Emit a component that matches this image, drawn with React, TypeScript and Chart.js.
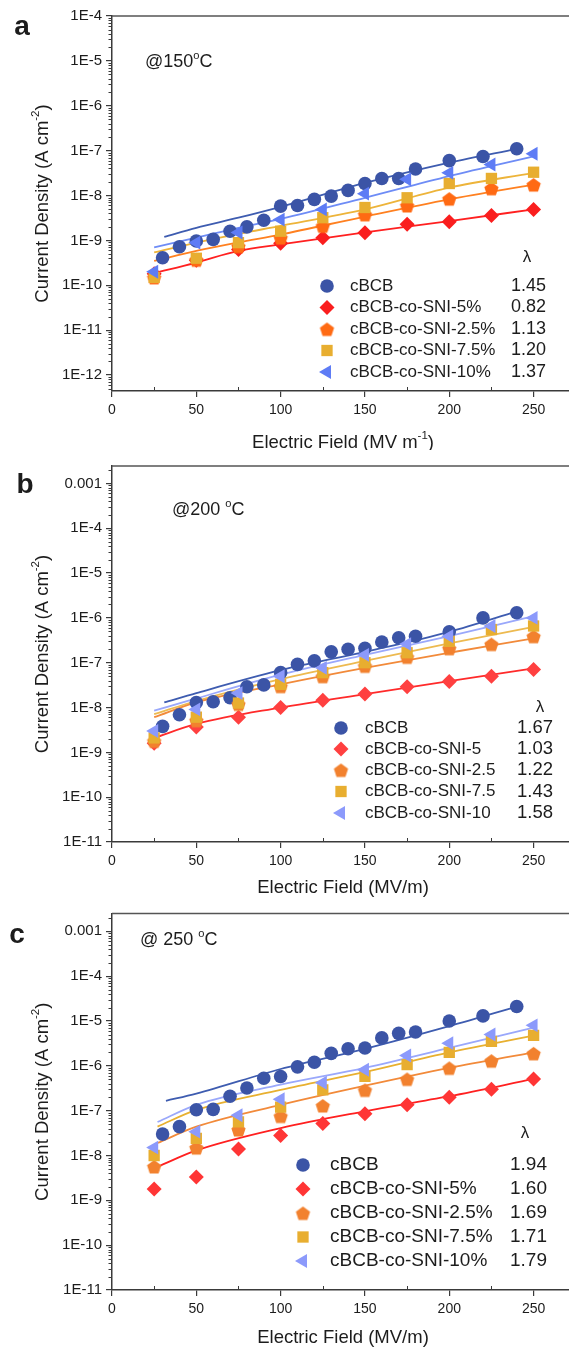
import React, { useEffect, useRef } from 'react';
import { Chart, registerables } from 'chart.js';
import { drawPoint } from 'chart.js/helpers';

Chart.register(...registerables);

const FONT = '"Liberation Sans", Arial, Helvetica, sans-serif';
const TEXT = '#1c1c1c';
const AXIS = '#3a3a3a';

// ---------------- categories / labels ----------------
const NAMES_A = ['cBCB', 'cBCB-co-SNI-5%', 'cBCB-co-SNI-2.5%', 'cBCB-co-SNI-7.5%', 'cBCB-co-SNI-10%'];
const NAMES_B = ['cBCB', 'cBCB-co-SNI-5', 'cBCB-co-SNI-2.5', 'cBCB-co-SNI-7.5', 'cBCB-co-SNI-10'];
const NAMES_C = ['cBCB', 'cBCB-co-SNI-5%', 'cBCB-co-SNI-2.5%', 'cBCB-co-SNI-7.5%', 'cBCB-co-SNI-10%'];
const LAMBDA_A = ['1.45', '0.82', '1.13', '1.20', '1.37'];
const LAMBDA_B = ['1.67', '1.03', '1.22', '1.43', '1.58'];
const LAMBDA_C = ['1.94', '1.60', '1.69', '1.71', '1.79'];

const X_TICKS = [0, 50, 100, 150, 200, 250];
const X_MINOR = [25, 75, 125, 175, 225];
const Y_TICKS_A = [1e-12, 1e-11, 1e-10, 1e-9, 1e-8, 1e-7, 1e-6, 1e-5, 1e-4];
const Y_LABELS_A = ['1E-12', '1E-11', '1E-10', '1E-9', '1E-8', '1E-7', '1E-6', '1E-5', '1E-4'];
const Y_TICKS_BC = [1e-11, 1e-10, 1e-9, 1e-8, 1e-7, 1e-6, 1e-5, 1e-4, 1e-3];
const Y_LABELS_BC = ['1E-11', '1E-10', '1E-9', '1E-8', '1E-7', '1E-6', '1E-5', '1E-4', '0.001'];

// ---------------- field values (MV/m) ----------------
const FIELD_CBCB = [30, 40, 50, 60, 70, 80, 90, 100, 110, 120, 130, 140, 150, 160, 170, 180, 200, 220, 240];
const FIELD_STEPS = [25, 50, 75, 100, 125, 150, 175, 200, 225, 250];

// ---------------- panel a : 150 C ----------------
const A_CBCB = [4.1e-10, 7.2e-10, 9.7e-10, 1.05e-9, 1.6e-9, 2.0e-9, 2.8e-9, 5.8e-9, 6.0e-9, 8.2e-9, 9.7e-9, 1.3e-8, 1.85e-8, 2.4e-8, 2.4e-8, 3.9e-8, 6.0e-8, 7.4e-8, 1.1e-7];
const A_SNI5 = [1.8e-10, 3.6e-10, 6.3e-10, 8.6e-10, 1.15e-9, 1.48e-9, 2.3e-9, 2.6e-9, 3.6e-9, 4.9e-9];
const A_SNI25 = [1.5e-10, 3.7e-10, 7.4e-10, 1.15e-9, 2.1e-9, 3.8e-9, 6.0e-9, 8.5e-9, 1.45e-8, 1.75e-8];
const A_SNI75 = [1.5e-10, 4.0e-10, 8.9e-10, 1.6e-9, 3.2e-9, 5.4e-9, 8.9e-9, 1.85e-8, 2.4e-8, 3.3e-8];
const A_SNI10 = [2.0e-10, 8.9e-10, 1.5e-9, 2.9e-9, 4.9e-9, 1.1e-8, 2.3e-8, 3.2e-8, 4.9e-8, 8.5e-8];

const A_FIT_X_CBCB = [31, 50, 75, 100, 150, 200, 240];
const A_FIT_CBCB = [1.2e-9, 1.9e-9, 3.2e-9, 5.6e-9, 1.9e-8, 5.4e-8, 1.1e-7];
const A_FIT_X = [25, 50, 75, 100, 150, 200, 250];
const A_FIT_SNI5 = [1.85e-10, 3.2e-10, 5.8e-10, 8.1e-10, 1.5e-9, 2.7e-9, 4.9e-9];
const A_FIT_SNI25 = [3.5e-10, 5.8e-10, 9.0e-10, 1.35e-9, 3.4e-9, 8.2e-9, 1.75e-8];
const A_FIT_SNI75 = [5.4e-10, 8.9e-10, 1.4e-9, 2.1e-9, 4.9e-9, 1.5e-8, 3.2e-8];
const A_FIT_SNI10 = [7.0e-10, 1.15e-9, 1.9e-9, 3.0e-9, 8.9e-9, 2.7e-8, 7.4e-8];

// ---------------- panel b : 200 C ----------------
const B_CBCB = [3.8e-9, 6.9e-9, 1.3e-8, 1.35e-8, 1.66e-8, 2.9e-8, 3.2e-8, 6.0e-8, 9.2e-8, 1.1e-7, 1.75e-7, 2.0e-7, 2.1e-7, 2.9e-7, 3.6e-7, 3.9e-7, 4.9e-7, 1.0e-6, 1.3e-6];
const B_SNI5 = [1.6e-9, 3.7e-9, 6.1e-9, 1.0e-8, 1.45e-8, 2.0e-8, 2.9e-8, 3.8e-8, 5.0e-8, 7.1e-8];
const B_SNI25 = [1.8e-9, 5.2e-9, 1.2e-8, 3.0e-8, 5.0e-8, 8.5e-8, 1.35e-7, 2.1e-7, 2.6e-7, 3.9e-7];
const B_SNI75 = [2.1e-9, 6.1e-9, 1.26e-8, 3.3e-8, 6.0e-8, 1.0e-7, 1.67e-7, 3.0e-7, 5.5e-7, 6.6e-7];
const B_SNI10 = [3.0e-9, 9.1e-9, 2.1e-8, 5.0e-8, 7.7e-8, 1.5e-7, 2.6e-7, 3.9e-7, 6.6e-7, 1.0e-6];

const B_FIT_X_CBCB = [31, 50, 100, 150, 200, 240];
const B_FIT_CBCB = [1.3e-8, 2.1e-8, 6.8e-8, 1.75e-7, 4.9e-7, 1.4e-6];
const B_FIT_X = [25, 50, 100, 150, 200, 250];
const B_FIT_SNI5 = [2.1e-9, 4.3e-9, 1.0e-8, 2.0e-8, 3.9e-8, 7.5e-8];
const B_FIT_SNI25 = [6.1e-9, 1.3e-8, 3.3e-8, 7.7e-8, 1.67e-7, 3.5e-7];
const B_FIT_SNI75 = [7.1e-9, 1.4e-8, 4.3e-8, 1.1e-7, 2.7e-7, 6.3e-7];
const B_FIT_SNI10 = [8.5e-9, 1.6e-8, 5.4e-8, 1.5e-7, 3.9e-7, 1.1e-6];

// ---------------- panel c : 250 C ----------------
const C_CBCB = [3.0e-8, 4.4e-8, 1.05e-7, 1.07e-7, 2.1e-7, 3.2e-7, 5.3e-7, 5.8e-7, 9.5e-7, 1.2e-6, 1.9e-6, 2.4e-6, 2.5e-6, 4.2e-6, 5.3e-6, 5.7e-6, 1.0e-5, 1.3e-5, 2.1e-5];
const C_SNI5 = [1.8e-9, 3.3e-9, 1.4e-8, 2.8e-8, 5.2e-8, 8.5e-8, 1.35e-7, 2.0e-7, 3.0e-7, 5.1e-7];
const C_SNI25 = [5.7e-9, 1.5e-8, 3.8e-8, 7.6e-8, 1.3e-7, 2.9e-7, 5.1e-7, 9.0e-7, 1.3e-6, 1.9e-6];
const C_SNI75 = [1.0e-8, 2.4e-8, 5.6e-8, 1.2e-7, 2.9e-7, 5.8e-7, 1.06e-6, 2.0e-6, 3.5e-6, 4.8e-6];
const C_SNI10 = [1.5e-8, 3.4e-8, 7.9e-8, 1.8e-7, 4.2e-7, 8.2e-7, 1.7e-6, 3.2e-6, 5.0e-6, 8.0e-6];

const C_FIT_X_CBCB = [32, 50, 100, 150, 200, 240];
const C_FIT_CBCB = [1.66e-7, 2.4e-7, 8.5e-7, 2.4e-6, 7.7e-6, 2.1e-5];
const C_FIT_X = [27, 50, 100, 150, 200, 250];
const C_FIT_SNI5 = [5.6e-9, 1.3e-8, 4.1e-8, 9.7e-8, 2.1e-7, 5.1e-7];
const C_FIT_SNI25 = [1.9e-8, 4.4e-8, 1.35e-7, 3.6e-7, 9.0e-7, 2.0e-6];
const C_FIT_SNI75 = [4.4e-8, 1.04e-7, 2.9e-7, 7.3e-7, 2.0e-6, 4.7e-6];
const C_FIT_SNI10 = [5.6e-8, 1.35e-7, 3.8e-7, 9.0e-7, 2.5e-6, 7.1e-6];

// ---------------- styling ----------------
function makePentagon(color: string, r: number): HTMLCanvasElement {
  const c = document.createElement('canvas');
  const s = Math.ceil(r * 2 + 2);
  c.width = s;
  c.height = s;
  const g = c.getContext('2d')!;
  g.fillStyle = color;
  g.beginPath();
  for (let k = 0; k < 5; k++) {
    const a = -Math.PI / 2 + (k * 2 * Math.PI) / 5;
    const px = s / 2 + r * Math.cos(a);
    const py = s / 2 + 1 + r * Math.sin(a);
    if (k === 0) g.moveTo(px, py);
    else g.lineTo(px, py);
  }
  g.closePath();
  g.fill();
  return c;
}

type Part = { t: string; sup?: boolean };

interface SeriesCfg {
  x: number[];
  y: number[];
  fx: number[];
  fy: number[];
  color: string;
  lineColor: string;
  style: any;
  radius: number;
  rotation: number;
}

interface PanelCfg {
  height: number;
  top: number;
  plotTop: number;
  plotBottom: number;
  yMin: number;
  yMax: number;
  yTicks: number[];
  yLabels: string[];
  letter: string;
  letterPos: [number, number];
  temp: Part[];
  tempPos: [number, number];
  xTitle: Part[];
  xTitleY: number;
  names: string[];
  lambdas: string[];
  lambdaPos: [number, number];
  markerX: number;
  textX: number;
  valueX: number;
  rows: number[];
  textSize: number;
  valueSize: number;
  series: SeriesCfg[];
}

function buildSeries(
  ys: number[][],
  fxs: number[][],
  fys: number[][],
  colors: string[],
  lineColors: string[],
  pentagon: HTMLCanvasElement
): SeriesCfg[] {
  const styles = [
    { style: 'circle', radius: 6.8, rotation: 0 },
    { style: 'rectRot', radius: 7.5, rotation: 0 },
    { style: pentagon, radius: 7, rotation: 0 },
    { style: 'rect', radius: 8, rotation: 0 },
    { style: 'triangle', radius: 8, rotation: -90 },
  ];
  return ys.map((y, i) => ({
    x: i === 0 ? FIELD_CBCB : FIELD_STEPS,
    y,
    fx: fxs[i],
    fy: fys[i],
    color: colors[i],
    lineColor: lineColors[i],
    ...styles[i],
  }));
}

function partsWidth(ctx: CanvasRenderingContext2D, parts: Part[], size: number) {
  let w = 0;
  for (const p of parts) {
    ctx.font = `${p.sup ? size * 0.62 : size}px ${FONT}`;
    w += ctx.measureText(p.t).width;
  }
  return w;
}

function drawParts(ctx: CanvasRenderingContext2D, parts: Part[], x: number, y: number, size: number, align: 'left' | 'center') {
  const w = partsWidth(ctx, parts, size);
  let cx = align === 'center' ? x - w / 2 : x;
  ctx.textAlign = 'left';
  ctx.textBaseline = 'middle';
  for (const p of parts) {
    ctx.font = `${p.sup ? size * 0.62 : size}px ${FONT}`;
    ctx.fillText(p.t, cx, p.sup ? y - size * 0.36 : y);
    cx += ctx.measureText(p.t).width;
  }
}

const Y_TITLE: Part[] = [{ t: 'Current Density (A cm' }, { t: '-2', sup: true }, { t: ')' }];

function Panel({ cfg }: { cfg: PanelCfg }) {
  const ref = useRef<HTMLCanvasElement>(null);
  useEffect(() => {
    const canvas = ref.current!;
    const datasets: any[] = [];
    cfg.series.forEach((s, i) => {
      datasets.push({
        data: s.x.map((x, j) => ({ x, y: s.y[j] })),
        showLine: false,
        pointStyle: s.style,
        pointRadius: s.radius,
        pointRotation: s.rotation,
        pointBackgroundColor: s.color,
        pointBorderColor: s.color,
        pointBorderWidth: 0,
        order: 5 - i,
      });
    });
    cfg.series.forEach((s) => {
      datasets.push({
        data: s.fx.map((x, j) => ({ x, y: s.fy[j] })),
        showLine: true,
        pointRadius: 0,
        borderColor: s.lineColor,
        borderWidth: 1.8,
        cubicInterpolationMode: 'monotone',
        order: 20,
      });
    });

    const deco = {
      id: 'deco',
      afterDraw(chart: any) {
        const ctx: CanvasRenderingContext2D = chart.ctx;
        const area = chart.chartArea;
        const xs = chart.scales.x;
        const ys = chart.scales.y;
        ctx.save();
        // top frame
        ctx.strokeStyle = '#555';
        ctx.lineWidth = 1.5;
        ctx.beginPath();
        ctx.moveTo(area.left, area.top);
        ctx.lineTo(area.right, area.top);
        ctx.stroke();
        // minor ticks
        ctx.strokeStyle = AXIS;
        ctx.lineWidth = 1;
        const lo = Math.floor(Math.log10(cfg.yMin));
        const hi = Math.ceil(Math.log10(cfg.yMax));
        ctx.beginPath();
        for (let d = lo; d <= hi; d++) {
          for (let k = 2; k <= 9; k++) {
            const v = k * Math.pow(10, d);
            if (v < cfg.yMin || v > cfg.yMax) continue;
            const py = Math.round(ys.getPixelForValue(v)) + 0.5;
            ctx.moveTo(area.left - 3.5, py);
            ctx.lineTo(area.left, py);
          }
        }
        for (const v of X_MINOR) {
          const px = Math.round(xs.getPixelForValue(v)) + 0.5;
          ctx.moveTo(px, area.bottom);
          ctx.lineTo(px, area.bottom - 4);
        }
        ctx.stroke();

        ctx.fillStyle = TEXT;
        // panel letter
        ctx.font = `bold 28px ${FONT}`;
        ctx.textAlign = 'center';
        ctx.textBaseline = 'middle';
        ctx.fillText(cfg.letter, cfg.letterPos[0], cfg.letterPos[1]);
        // temperature
        drawParts(ctx, cfg.temp, cfg.tempPos[0], cfg.tempPos[1], 18, 'left');
        // axis titles
        drawParts(ctx, cfg.xTitle, 343, cfg.xTitleY, 18.5, 'center');
        ctx.save();
        ctx.translate(43, (area.top + area.bottom) / 2);
        ctx.rotate(-Math.PI / 2);
        drawParts(ctx, Y_TITLE, 0, 0, 18.5, 'center');
        ctx.restore();

        // legend
        ctx.fillStyle = TEXT;
        ctx.font = `17px ${FONT}`;
        ctx.textAlign = 'center';
        ctx.textBaseline = 'middle';
        ctx.fillText('\u03bb', cfg.lambdaPos[0], cfg.lambdaPos[1]);
        cfg.series.forEach((s, i) => {
          const y = cfg.rows[i];
          ctx.fillStyle = s.color;
          ctx.strokeStyle = s.color;
          drawPoint(ctx, { pointStyle: s.style, radius: s.radius, rotation: s.rotation, borderWidth: 0 } as any, cfg.markerX, y);
          ctx.fillStyle = TEXT;
          ctx.textAlign = 'left';
          ctx.textBaseline = 'middle';
          ctx.font = `${cfg.textSize}px ${FONT}`;
          ctx.fillText(cfg.names[i], cfg.textX, y);
          ctx.font = `${cfg.valueSize}px ${FONT}`;
          ctx.fillText(cfg.lambdas[i], cfg.valueX, y);
        });
        ctx.restore();
      },
    };

    const chart = new Chart(canvas, {
      type: 'scatter',
      data: { datasets },
      options: {
        responsive: false,
        animation: false,
        events: [],
        layout: { autoPadding: false, padding: { top: cfg.plotTop, left: 0, right: 0, bottom: 0 } },
        plugins: { legend: { display: false }, tooltip: { enabled: false }, title: { display: false } },
        scales: {
          x: {
            type: 'linear',
            min: 0,
            max: 271,
            afterBuildTicks: (s: any) => {
              s.ticks = X_TICKS.map((v) => ({ value: v }));
            },
            afterFit: (s: any) => {
              s.height = cfg.height - cfg.plotBottom;
            },
            grid: { display: true, drawOnChartArea: false, drawTicks: true, tickLength: 6, color: AXIS, lineWidth: 1.2 },
            border: { display: true, color: AXIS, width: 1.5 },
            ticks: {
              autoSkip: false,
              maxRotation: 0,
              padding: 5,
              color: TEXT,
              font: { family: FONT, size: 14 },
              callback: (v: any) => String(v),
            },
          },
          y: {
            type: 'logarithmic',
            min: cfg.yMin,
            max: cfg.yMax,
            afterBuildTicks: (s: any) => {
              s.ticks = cfg.yTicks.map((v) => ({ value: v, major: true }));
            },
            afterFit: (s: any) => {
              s.width = 112;
            },
            grid: { display: true, drawOnChartArea: false, drawTicks: true, tickLength: 6, color: AXIS, lineWidth: 1.2 },
            border: { display: true, color: AXIS, width: 1.5 },
            ticks: {
              autoSkip: false,
              padding: 4,
              color: TEXT,
              font: { family: FONT, size: 15 },
              callback: (_v: any, idx: number) => cfg.yLabels[idx],
            },
          },
        },
      } as any,
      plugins: [deco],
    });
    return () => chart.destroy();
  }, [cfg]);
  return (
    <canvas
      ref={ref}
      width={569}
      height={cfg.height}
      style={{ position: 'absolute', left: 0, top: cfg.top, width: 569, height: cfg.height, display: 'block' }}
    />
  );
}

const PENT_A = makePentagon('#FF6A13', 7.5);
const PENT_BC = makePentagon('#F2812E', 7.5);

const PANEL_A: PanelCfg = {
  height: 450,
  top: 0,
  plotTop: 16,
  plotBottom: 391,
  yMin: 4.4e-13,
  yMax: 1e-4,
  yTicks: Y_TICKS_A,
  yLabels: Y_LABELS_A,
  letter: 'a',
  letterPos: [22, 27],
  temp: [{ t: '@150' }, { t: 'o', sup: true }, { t: 'C' }],
  tempPos: [145, 62],
  xTitle: [{ t: 'Electric Field (MV m' }, { t: '-1', sup: true }, { t: ')' }],
  xTitleY: 443,
  names: NAMES_A,
  lambdas: LAMBDA_A,
  lambdaPos: [527, 257],
  markerX: 327,
  textX: 350,
  valueX: 511,
  rows: [286, 307.5, 329, 350.5, 372],
  textSize: 17,
  valueSize: 18,
  series: buildSeries(
    [A_CBCB, A_SNI5, A_SNI25, A_SNI75, A_SNI10],
    [A_FIT_X_CBCB, A_FIT_X, A_FIT_X, A_FIT_X, A_FIT_X],
    [A_FIT_CBCB, A_FIT_SNI5, A_FIT_SNI25, A_FIT_SNI75, A_FIT_SNI10],
    ['#3B54A6', '#FA1E1E', '#FF6A13', '#E8AE30', '#5E7CF5'],
    ['#3E5CB0', '#FF2020', '#FF8020', '#EDB43A', '#6E8CF6'],
    PENT_A
  ),
};

const PANEL_B: PanelCfg = {
  height: 450,
  top: 450,
  plotTop: 16,
  plotBottom: 392,
  yMin: 1e-11,
  yMax: 2.45e-3,
  yTicks: Y_TICKS_BC,
  yLabels: Y_LABELS_BC,
  letter: 'b',
  letterPos: [25, 35],
  temp: [{ t: '@200 ' }, { t: 'o', sup: true }, { t: 'C' }],
  tempPos: [172, 60],
  xTitle: [{ t: 'Electric Field (MV/m)' }],
  xTitleY: 438,
  names: NAMES_B,
  lambdas: LAMBDA_B,
  lambdaPos: [540, 257],
  markerX: 341,
  textX: 365,
  valueX: 517,
  rows: [278, 299, 320, 341.5, 363],
  textSize: 17,
  valueSize: 18.5,
  series: buildSeries(
    [B_CBCB, B_SNI5, B_SNI25, B_SNI75, B_SNI10],
    [B_FIT_X_CBCB, B_FIT_X, B_FIT_X, B_FIT_X, B_FIT_X],
    [B_FIT_CBCB, B_FIT_SNI5, B_FIT_SNI25, B_FIT_SNI75, B_FIT_SNI10],
    ['#3B54A6', '#FF4040', '#F2812E', '#E8AE30', '#8C9AFB'],
    ['#3E5CB0', '#FF2A2A', '#F28A3A', '#EDBA50', '#9AA8FB'],
    PENT_BC
  ),
};

const PANEL_C: PanelCfg = {
  height: 449,
  top: 900,
  plotTop: 13.5,
  plotBottom: 390,
  yMin: 1e-11,
  yMax: 2.5e-3,
  yTicks: Y_TICKS_BC,
  yLabels: Y_LABELS_BC,
  letter: 'c',
  letterPos: [17, 35],
  temp: [{ t: '@ 250 ' }, { t: 'o', sup: true }, { t: 'C' }],
  tempPos: [140, 40],
  xTitle: [{ t: 'Electric Field (MV/m)' }],
  xTitleY: 438,
  names: NAMES_C,
  lambdas: LAMBDA_C,
  lambdaPos: [525, 233],
  markerX: 303,
  textX: 330,
  valueX: 510,
  rows: [265, 289, 313, 337, 361],
  textSize: 19,
  valueSize: 19,
  series: buildSeries(
    [C_CBCB, C_SNI5, C_SNI25, C_SNI75, C_SNI10],
    [C_FIT_X_CBCB, C_FIT_X, C_FIT_X, C_FIT_X, C_FIT_X],
    [C_FIT_CBCB, C_FIT_SNI5, C_FIT_SNI25, C_FIT_SNI75, C_FIT_SNI10],
    ['#3B54A6', '#FF3535', '#F2812E', '#E8AE30', '#8C9AFB'],
    ['#3E5CB0', '#FF2020', '#F28A3A', '#E8B030', '#9AA8FB'],
    PENT_BC
  ),
};

export default function App() {
  return (
    <div style={{ position: 'absolute', left: 0, top: 0, width: 569, height: 1349, background: '#fff', overflow: 'hidden' }}>
      <Panel cfg={PANEL_A} />
      <Panel cfg={PANEL_B} />
      <Panel cfg={PANEL_C} />
    </div>
  );
}
